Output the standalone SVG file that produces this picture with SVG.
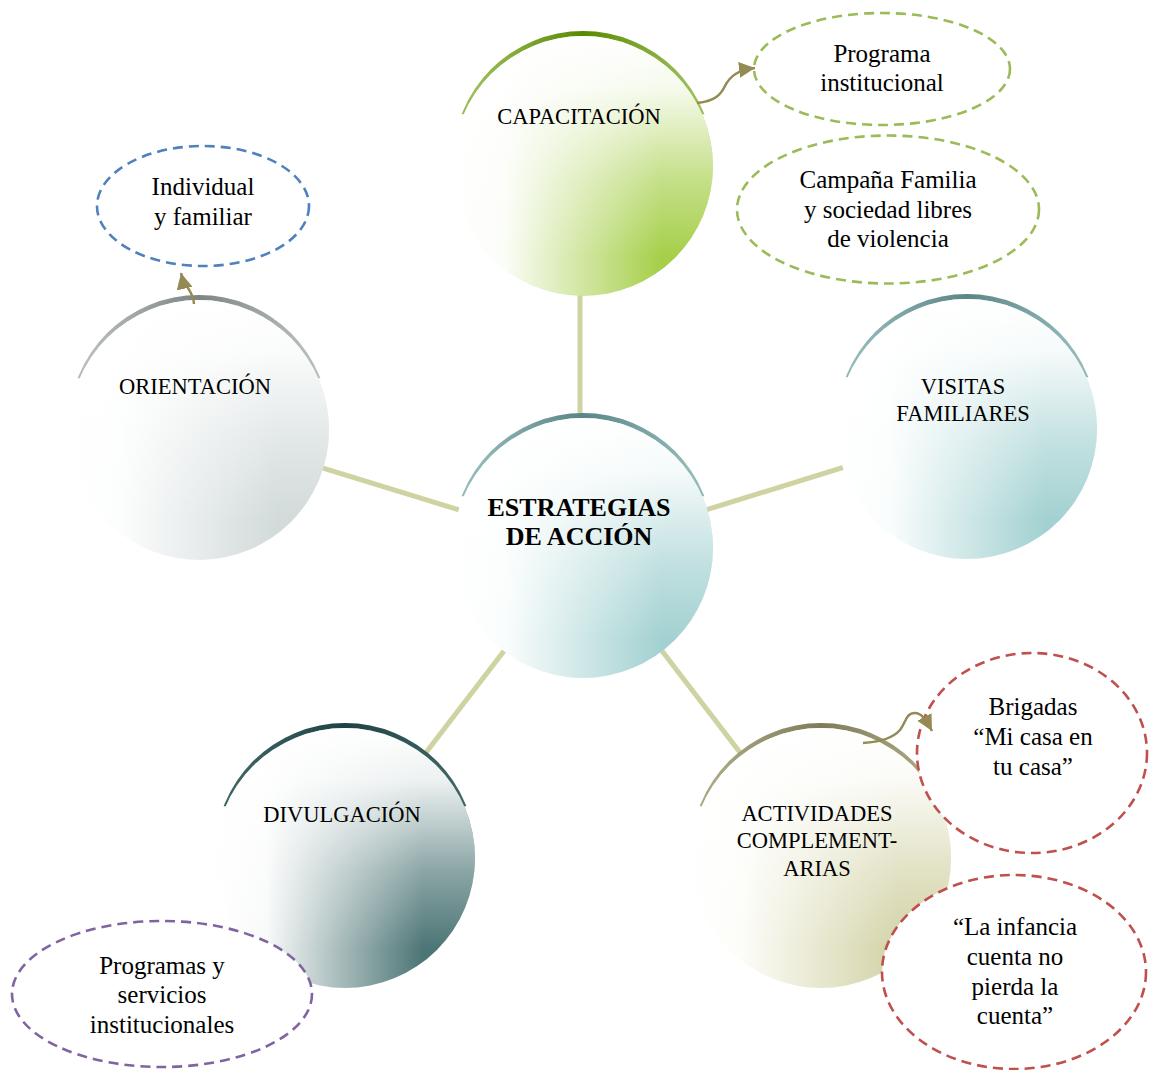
<svg xmlns="http://www.w3.org/2000/svg" width="1151" height="1070" viewBox="0 0 1151 1070">
<style>
.lbl{font-family:"Liberation Serif","Times New Roman",serif;font-size:22.5px;fill:#000;text-anchor:middle}
.main{font-family:"Liberation Serif","Times New Roman",serif;font-size:26px;font-weight:bold;fill:#000;text-anchor:middle}
.sub{font-family:"Liberation Serif","Times New Roman",serif;font-size:25px;fill:#000;text-anchor:middle}
.conn{stroke:#cfd3a2;stroke-width:5;fill:none}
.arr{stroke:#948a54;stroke-width:2.5;fill:none;marker-end:url(#ah)}
.dash{fill:#fff;stroke-width:2.6;stroke-dasharray:10 6}
.ov{fill:url(#vwhite)}
.arc{clip-path:url(#topclip)}
</style>
<defs>
<clipPath id="topclip" clipPathUnits="objectBoundingBox">
<rect x="0" y="0" width="1" height="0.32"/>
</clipPath>
<marker id="ah" markerUnits="userSpaceOnUse" markerWidth="16" markerHeight="16" refX="14" refY="7" orient="auto" viewBox="0 0 14 14">
<path d="M0,0 L14,7 L0,14 z" fill="#948a54"/>
</marker>
<linearGradient id="vwhite" x1="0" y1="0" x2="0" y2="1">
<stop offset="0" stop-color="#fff" stop-opacity="1"/>
<stop offset="0.2" stop-color="#fff" stop-opacity="0.9"/>
<stop offset="0.55" stop-color="#fff" stop-opacity="0.35"/>
<stop offset="0.85" stop-color="#fff" stop-opacity="0"/>
</linearGradient>
<linearGradient id="h-cap" x1="0" y1="0" x2="1" y2="0">
<stop offset="0" stop-color="#fff"/><stop offset="0.2" stop-color="#fbfdf7"/><stop offset="0.8" stop-color="#a6cf4a"/><stop offset="1" stop-color="#a6cf4a"/>
</linearGradient>
<linearGradient id="h-ori" x1="0" y1="0" x2="1" y2="0">
<stop offset="0" stop-color="#fff"/><stop offset="0.2" stop-color="#fcfdfd"/><stop offset="0.8" stop-color="#d2dada"/><stop offset="1" stop-color="#d2dada"/>
</linearGradient>
<linearGradient id="h-vis" x1="0" y1="0" x2="1" y2="0">
<stop offset="0" stop-color="#fff"/><stop offset="0.2" stop-color="#fafdfd"/><stop offset="0.8" stop-color="#a3d1d1"/><stop offset="1" stop-color="#a3d1d1"/>
</linearGradient>
<linearGradient id="h-div" x1="0" y1="0" x2="1" y2="0">
<stop offset="0" stop-color="#fff"/><stop offset="0.2" stop-color="#f8f9f9"/><stop offset="0.8" stop-color="#4d7575"/><stop offset="1" stop-color="#4d7575"/>
</linearGradient>
<linearGradient id="h-act" x1="0" y1="0" x2="1" y2="0">
<stop offset="0" stop-color="#fff"/><stop offset="0.2" stop-color="#fcfcf8"/><stop offset="0.8" stop-color="#d2d2a6"/><stop offset="1" stop-color="#d2d2a6"/>
</linearGradient>
<linearGradient id="a-cap" x1="0" y1="0" x2="1" y2="0">
<stop offset="0.1" stop-color="#9bbb59"/><stop offset="0.5" stop-color="#5a8a00"/><stop offset="0.9" stop-color="#9bbb59"/>
</linearGradient>
<linearGradient id="a-ori" x1="0" y1="0" x2="1" y2="0">
<stop offset="0.1" stop-color="#b5baba"/><stop offset="0.5" stop-color="#7f8585"/><stop offset="0.9" stop-color="#b5baba"/>
</linearGradient>
<linearGradient id="a-vis" x1="0" y1="0" x2="1" y2="0">
<stop offset="0.1" stop-color="#92b8b8"/><stop offset="0.5" stop-color="#5c8585"/><stop offset="0.9" stop-color="#92b8b8"/>
</linearGradient>
<linearGradient id="a-div" x1="0" y1="0" x2="1" y2="0">
<stop offset="0.1" stop-color="#3d6363"/><stop offset="0.5" stop-color="#1f4343"/><stop offset="0.9" stop-color="#3d6363"/>
</linearGradient>
<linearGradient id="a-act" x1="0" y1="0" x2="1" y2="0">
<stop offset="0.1" stop-color="#aaa784"/><stop offset="0.5" stop-color="#807c5a"/><stop offset="0.9" stop-color="#aaa784"/>
</linearGradient>
</defs>
<rect width="1151" height="1070" fill="#fff"/>

<g id="connectors">
<line class="conn" x1="580" y1="290" x2="580" y2="425"/>
<line class="conn" x1="199" y1="430" x2="583" y2="548"/>
<line class="conn" x1="583" y1="548" x2="967" y2="429"/>
<line class="conn" x1="583" y1="548" x2="345" y2="858"/>
<line class="conn" x1="583" y1="548" x2="821" y2="858"/>
</g>

<g id="node-capacitacion">
<circle class="arc" cx="583" cy="161" r="130" fill="url(#a-cap)"/>
<circle cx="583" cy="166" r="130" fill="url(#h-cap)"/>
<circle cx="583" cy="166" r="130" class="ov"/>
<text class="lbl" x="579" y="124">CAPACITACIÓN</text>
</g>

<g id="node-orientacion">
<circle class="arc" cx="199" cy="425" r="130" fill="url(#a-ori)"/>
<circle cx="199" cy="430" r="130" fill="url(#h-ori)"/>
<circle cx="199" cy="430" r="130" class="ov"/>
<text class="lbl" x="195" y="394">ORIENTACIÓN</text>
</g>

<g id="node-visitas">
<circle class="arc" cx="967" cy="424" r="130" fill="url(#a-vis)"/>
<circle cx="967" cy="429" r="130" fill="url(#h-vis)"/>
<circle cx="967" cy="429" r="130" class="ov"/>
<text class="lbl" x="963" y="394">VISITAS</text>
<text class="lbl" x="963" y="421">FAMILIARES</text>
</g>

<g id="node-centro">
<circle class="arc" cx="583" cy="543" r="130" fill="url(#a-vis)"/>
<circle cx="583" cy="548" r="130" fill="url(#h-vis)"/>
<circle cx="583" cy="548" r="130" class="ov"/>
<text class="main" x="579" y="516">ESTRATEGIAS</text>
<text class="main" x="579" y="545">DE ACCIÓN</text>
</g>

<g id="node-divulgacion">
<circle class="arc" cx="345" cy="853" r="130" fill="url(#a-div)"/>
<circle cx="345" cy="858" r="130" fill="url(#h-div)"/>
<circle cx="345" cy="858" r="130" class="ov"/>
<text class="lbl" x="342" y="822">DIVULGACIÓN</text>
</g>

<g id="node-actividades">
<circle class="arc" cx="821" cy="853" r="130" fill="url(#a-act)"/>
<circle cx="821" cy="858" r="130" fill="url(#h-act)"/>
<circle cx="821" cy="858" r="130" class="ov"/>
<text class="lbl" x="817" y="821">ACTIVIDADES</text>
<text class="lbl" x="817" y="848">COMPLEMENT-</text>
<text class="lbl" x="817" y="876">ARIAS</text>
</g>

<g id="node-programa-institucional">
<ellipse class="dash" cx="882" cy="69" rx="128" ry="56" stroke="#9bbb59"/>
<text class="sub" x="882" y="62">Programa</text>
<text class="sub" x="882" y="91">institucional</text>
</g>

<g id="node-campana">
<ellipse class="dash" cx="888" cy="209.5" rx="151" ry="74" stroke="#9bbb59"/>
<text class="sub" x="888" y="188">Campaña Familia</text>
<text class="sub" x="888" y="218">y sociedad libres</text>
<text class="sub" x="888" y="247">de violencia</text>
</g>

<g id="node-individual">
<ellipse class="dash" cx="203" cy="206" rx="106" ry="60" stroke="#4f81bd"/>
<text class="sub" x="203" y="195">Individual</text>
<text class="sub" x="203" y="225">y familiar</text>
</g>

<g id="node-programas-servicios">
<ellipse class="dash" cx="162" cy="994" rx="150" ry="73" stroke="#8064a2"/>
<text class="sub" x="162" y="974">Programas y</text>
<text class="sub" x="162" y="1003">servicios</text>
<text class="sub" x="162" y="1033">institucionales</text>
</g>

<g id="node-brigadas">
<ellipse class="dash" cx="1032" cy="753" rx="115" ry="100" stroke="#c0504d"/>
<text class="sub" x="1033" y="715">Brigadas</text>
<text class="sub" x="1033" y="745">“Mi casa en</text>
<text class="sub" x="1033" y="775">tu casa”</text>
</g>

<g id="node-infancia">
<ellipse class="dash" cx="1014" cy="972" rx="132" ry="97" stroke="#c0504d"/>
<text class="sub" x="1015" y="935">“La infancia</text>
<text class="sub" x="1015" y="965">cuenta no</text>
<text class="sub" x="1015" y="995">pierda la</text>
<text class="sub" x="1015" y="1024">cuenta”</text>
</g>

<g id="arrows">
<path class="arr" d="M697,103 C716,101 721,94 725,86 C730,76 738,70 755,68"/>
<path class="arr" d="M863,743 C880,742 893,738 900,730 C906,722 906,713 915,713 C921,713 925,718 932,731"/>
<path class="arr" d="M194,304 C194,292 184,286 181,273"/>
</g>
</svg>
